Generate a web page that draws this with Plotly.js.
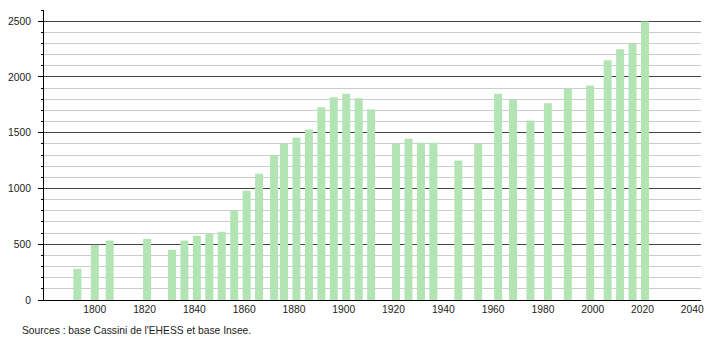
<!DOCTYPE html>
<html>
<head>
<meta charset="utf-8">
<script src="https://cdn.plot.ly/plotly-3.0.1.min.js"></script>
<style>html,body{margin:0;padding:0;background:#fff;}#chart{width:710px;height:340px;}</style>
</head>
<body>
<div id="chart"></div>
<script>
var years = [1793, 1800, 1806, 1821, 1831, 1836, 1841, 1846, 1851, 1856, 1861, 1866, 1872, 1876, 1881, 1886, 1891, 1896, 1901, 1906, 1911, 1921, 1926, 1931, 1936, 1946, 1954, 1962, 1968, 1975, 1982, 1990, 1999, 2006, 2011, 2016, 2021];
var population = [280, 495, 533, 548, 450, 533, 576, 591, 612, 800, 980, 1133, 1298, 1403, 1457, 1529, 1727, 1817, 1850, 1808, 1709, 1403, 1445, 1409, 1409, 1250, 1403, 1850, 1796, 1610, 1763, 1895, 1924, 2149, 2248, 2302, 2497];
var yTicks = [0, 500, 1000, 1500, 2000, 2500];
var xTicks = [1800, 1820, 1840, 1860, 1880, 1900, 1920, 1940, 1960, 1980, 2000, 2020, 2040];
var sourceText = "Sources : base Cassini de l'EHESS et base Insee.";

var trace = {
  type: 'bar',
  x: years,
  y: population,
  width: 3.2,
  marker: {color: '#b3e4b3', line: {width: 0}},
  hoverinfo: 'x+y'
};

var layout = {
  width: 710,
  height: 340,
  margin: {l: 44, r: 9, t: 10, b: 40, pad: 0},
  paper_bgcolor: '#ffffff',
  plot_bgcolor: '#ffffff',
  showlegend: false,
  font: {family: 'Liberation Sans, Arial, sans-serif', size: 10.3, color: '#222'},
  xaxis: {
    range: [1779.6, 2043.5],
    tickmode: 'array',
    tickvals: xTicks,
    ticktext: xTicks.map(String),
    ticks: '',
    showline: true,
    linecolor: '#000',
    linewidth: 1,
    showgrid: false,
    zeroline: false,
    tickfont: {size: 10.3, color: '#222'}
  },
  yaxis: {
    range: [0, 2600],
    tickmode: 'array',
    tickvals: yTicks,
    ticktext: yTicks.map(String),
    ticks: 'outside',
    ticklen: 5,
    tickcolor: '#000',
    tickwidth: 1,
    ticklabelstandoff: 5,
    showline: true,
    linecolor: '#000',
    linewidth: 1,
    showgrid: true,
    gridcolor: '#444',
    gridwidth: 1,
    zeroline: false,
    tickfont: {size: 10.3, color: '#222'},
    minor: {
      dtick: 100,
      tick0: 0,
      ticks: 'outside',
      ticklen: 2,
      tickcolor: '#000',
      showgrid: true,
      gridcolor: '#cccccc',
      gridwidth: 1
    }
  },
  annotations: [{
    text: sourceText,
    xref: 'paper', yref: 'paper',
    x: -24 / 657, y: -30 / 290,
    xanchor: 'left', yanchor: 'middle',
    showarrow: false,
    font: {size: 10.3, color: '#222'}
  }]
};

Plotly.newPlot('chart', [trace], layout, {displayModeBar: false, staticPlot: true});
</script>
</body>
</html>
